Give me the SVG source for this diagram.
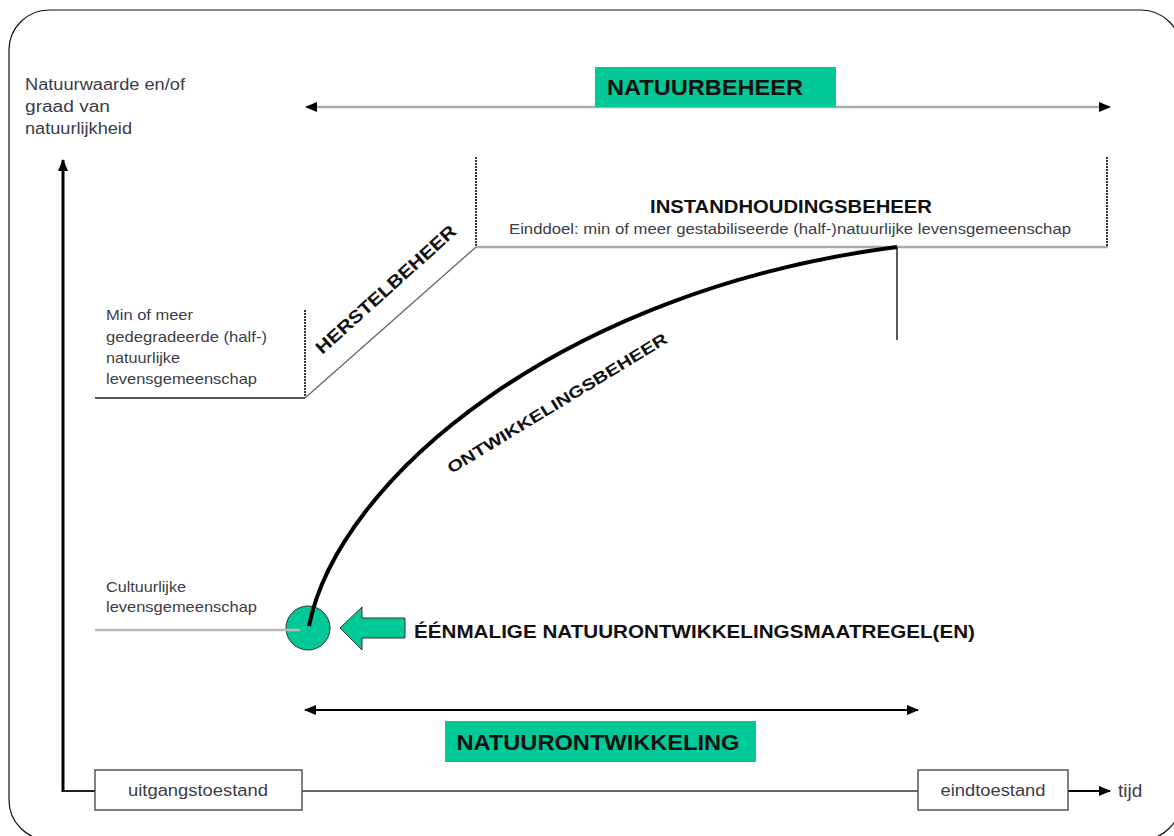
<svg xmlns="http://www.w3.org/2000/svg" width="1174" height="836" viewBox="0 0 1174 836">
<style>
  .lbl { font-family: "Liberation Sans", Arial, sans-serif; font-size: 15px; fill: #3c3c48; }
  .bold { font-family: "Liberation Sans", Arial, sans-serif; font-weight: bold; fill: #111; }
  .box { fill: #fff; stroke: #555; stroke-width: 1.5; }
  .green { fill: #00C896; }
  .dot { stroke: #333; stroke-width: 2; stroke-dasharray: 2 1; fill: none; }
</style>
<defs>
  <marker id="ahs" markerWidth="12" markerHeight="12" refX="11" refY="6" orient="auto-start-reverse" markerUnits="userSpaceOnUse">
    <path d="M0,1 L12,6 L0,11 Z" fill="#000"/>
  </marker>
</defs>
<rect x="9" y="10" width="1172" height="830" rx="40" ry="40" fill="#fff" stroke="#111" stroke-width="1.2"/>

<g id="startpunt">
  <circle class="green" cx="308" cy="628" r="22" stroke="#333" stroke-width="1"/>
</g>

<g id="connectors">
  <!-- axes -->
  <path d="M63,792 L63,160" stroke="#000" stroke-width="3" fill="none" marker-end="url(#ahs)"/>
  <path d="M63,791 L95,791" stroke="#222" stroke-width="2" fill="none"/>
  <path d="M302,791 L918,791" stroke="#333" stroke-width="1.5" fill="none"/>
  <path d="M1068,791 L1110,791" stroke="#000" stroke-width="2" fill="none" marker-end="url(#ahs)"/>
  <!-- top double arrow -->
  <path d="M306,107 L1110,107" stroke="#aaa" stroke-width="2.5" fill="none" marker-start="url(#ahs)" marker-end="url(#ahs)"/>
  <!-- bottom double arrow -->
  <path d="M305,710 L918,710" stroke="#000" stroke-width="2" fill="none" marker-start="url(#ahs)" marker-end="url(#ahs)"/>
  <!-- levels -->
  <path d="M95,398 L305,398" stroke="#555" stroke-width="2" fill="none"/>
  <path d="M305,310 L305,398" class="dot"/>
  <path d="M305,398 L476,247" stroke="#666" stroke-width="1.3" fill="none"/>
  <path d="M476,157 L476,247" class="dot"/>
  <path d="M476,247 L1108,247" stroke="#aaa" stroke-width="2.5" fill="none"/>
  <path d="M1107,157 L1107,247" class="dot"/>
  <path d="M95,630 L300,630" stroke="#bbb" stroke-width="2.5" fill="none"/>
  <path d="M897,247 L897,340" stroke="#000" stroke-width="1.3" fill="none"/>
  <!-- development curve -->
  <path d="M309,626 C338,480 560,290 897,247" stroke="#000" stroke-width="4" fill="none"/>
</g>

<g id="axis-label">
  <text class="lbl" x="25" y="90" style="font-size:16px" textLength="160" lengthAdjust="spacingAndGlyphs">Natuurwaarde en/of</text>
  <text class="lbl" x="25" y="112" style="font-size:16px" textLength="85" lengthAdjust="spacingAndGlyphs">graad van</text>
  <text class="lbl" x="25" y="134" style="font-size:16px" textLength="107" lengthAdjust="spacingAndGlyphs">natuurlijkheid</text>
</g>

<g id="natuurbeheer">
  <rect class="green" x="595" y="67" width="241" height="40"/>
  <text class="bold" x="607" y="95" font-size="22" textLength="196" lengthAdjust="spacingAndGlyphs">NATUURBEHEER</text>
</g>

<g id="instandhouding">
  <text class="bold" x="791" y="213" font-size="18" text-anchor="middle" textLength="282" lengthAdjust="spacingAndGlyphs">INSTANDHOUDINGSBEHEER</text>
  <text class="lbl" x="790" y="234" text-anchor="middle" style="font-size:14px" textLength="562" lengthAdjust="spacingAndGlyphs">Einddoel: min of meer gestabiliseerde (half-)natuurlijke levensgemeenschap</text>
</g>

<g id="herstelbeheer">
  <text class="bold" font-size="18" text-anchor="middle" transform="translate(390,294) rotate(-42)" textLength="182" lengthAdjust="spacingAndGlyphs">HERSTELBEHEER</text>
</g>

<g id="gedegradeerd">
  <text class="lbl" x="106" y="320" textLength="87" lengthAdjust="spacingAndGlyphs">Min of meer</text>
  <text class="lbl" x="106" y="342" textLength="161" lengthAdjust="spacingAndGlyphs">gedegradeerde (half-)</text>
  <text class="lbl" x="106" y="363" textLength="74" lengthAdjust="spacingAndGlyphs">natuurlijke</text>
  <text class="lbl" x="106" y="384" textLength="151" lengthAdjust="spacingAndGlyphs">levensgemeenschap</text>
</g>

<g id="ontwikkelingsbeheer">
  <text class="bold" font-size="16" text-anchor="middle" transform="translate(560,408) rotate(-31.3)" textLength="254" lengthAdjust="spacingAndGlyphs">ONTWIKKELINGSBEHEER</text>
</g>

<g id="cultuurlijk">
  <text class="lbl" x="106" y="592" textLength="80" lengthAdjust="spacingAndGlyphs">Cultuurlijke</text>
  <text class="lbl" x="106" y="612" textLength="151" lengthAdjust="spacingAndGlyphs">levensgemeenschap</text>
</g>

<g id="maatregel">
  <polygon class="green" points="340,628 362,607 362,618 405,618 405,638 362,638 362,650" stroke="#333" stroke-width="1"/>
  <text class="bold" x="414" y="638" font-size="18" textLength="561" lengthAdjust="spacingAndGlyphs">ÉÉNMALIGE NATUURONTWIKKELINGSMAATREGEL(EN)</text>
</g>

<g id="natuurontwikkeling">
  <rect class="green" x="445" y="721" width="311" height="41"/>
  <text class="bold" x="598" y="750" font-size="22" text-anchor="middle" textLength="283" lengthAdjust="spacingAndGlyphs">NATUURONTWIKKELING</text>
</g>

<g id="uitgangstoestand">
  <rect class="box" x="95" y="770" width="207" height="40"/>
  <text class="lbl" x="198" y="796" text-anchor="middle" style="font-size:16px" textLength="140" lengthAdjust="spacingAndGlyphs">uitgangstoestand</text>
</g>

<g id="eindtoestand">
  <rect class="box" x="918" y="770" width="150" height="40"/>
  <text class="lbl" x="993" y="796" text-anchor="middle" style="font-size:16px" textLength="105" lengthAdjust="spacingAndGlyphs">eindtoestand</text>
</g>

<g id="tijd">
  <text class="lbl" x="1118" y="797" style="font-size:19px">tijd</text>
</g>
</svg>
